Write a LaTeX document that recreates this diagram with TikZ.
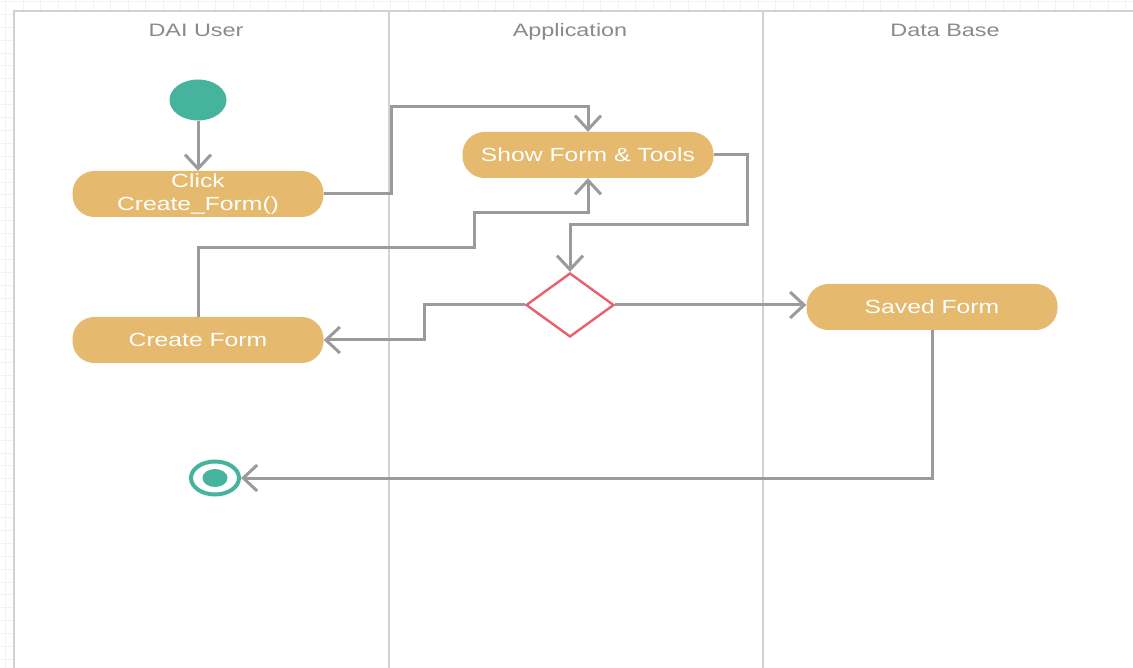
\documentclass[tikz,border=0pt]{standalone}
\usepackage{fontspec}
\setmainfont[FakeStretch=1.3]{Liberation Sans}
\usetikzlibrary{shapes.geometric,arrows.meta}
\definecolor{actfill}{HTML}{E5B96E}
\definecolor{teal}{HTML}{46B39D}
\definecolor{decred}{HTML}{E8616B}
\definecolor{flowgray}{HTML}{9B9B9B}
\definecolor{lanegray}{HTML}{D2D2D2}
\definecolor{headgray}{HTML}{8A8A8A}
\definecolor{gridgray}{HTML}{F2F2F2}
\tikzset{
  activity/.style={draw=none, fill=actfill, rounded corners=22pt,
    minimum width=251pt, minimum height=46pt, inner sep=0pt,
    text=white, align=center, font=\fontsize{19}{23}\selectfont},
  lanehead/.style={text=headgray, font=\fontsize{18}{22}\selectfont,
    text height=13pt, text depth=4pt},
  flow/.style={draw=flowgray, line width=3pt,
    -{Straight Barb[length=14pt,width=26pt,line width=3pt]}},
  lane/.style={draw=lanegray, line width=1.6pt},
}
\begin{document}
\begin{tikzpicture}[x=1pt,y=-1pt]
\useasboundingbox (0,0) rectangle (1133,668);
% background grid of the drawing canvas
\foreach \i in {0,...,65} \draw[gridgray, line width=0.8pt] (5.8+17.5*\i,0) -- (5.8+17.5*\i,668);
\foreach \j in {0,...,52} \draw[gridgray, line width=0.8pt] (0,1.4+12.9*\j) -- (1133,1.4+12.9*\j);
% swimlane frame
\fill[white] (14,11) rectangle (1140,680);
\draw[lane] (1140,11) -- (14,11) -- (14,680);
\draw[lane] (389,11) -- (389,680);
\draw[lane] (763,11) -- (763,680);
\node[lanehead] (hUser) at (196,32) {DAI User};
\node[lanehead] (hApp) at (570,32) {Application};
\node[lanehead] (hDB) at (945,32) {Data Base};

% activity nodes
\node[ellipse, fill=teal, minimum width=57pt, minimum height=41pt, inner sep=0pt] (start) at (198,100) {};
\node[activity] (click) at (198,194) {Click\\Create\_Form()};
\node[activity] (show) at (588,155) {Show Form \& Tools};
\node[diamond, draw=decred, fill=white, line width=2.4pt, minimum width=88pt, minimum height=64pt, inner sep=0pt] (dec) at (570,305) {};
\node[activity] (create) at (198,340) {Create Form};
\node[activity] (saved) at (932,307) {Saved Form};
\node[ellipse, draw=teal, line width=4pt, fill=white, minimum width=48pt, minimum height=33pt, inner sep=0pt] (end) at (215,478) {};
\node[ellipse, fill=teal, minimum width=25pt, minimum height=18pt, inner sep=0pt] (endcore) at (end.center) {};

% control flow
\coordinate (step5) at (474,248);
\draw[flow] (start) -- (click);
\draw[flow] (click.east) -- ++(68,0) |- ([yshift=25pt]show.north) -- (show.north);
\draw[flow] (show.east) -- ++(34,0) |- ([yshift=47pt]dec.north) -- (dec.north);
\draw[flow] (dec.west) -- ++(-100,0) |- (create.east);
\draw[flow] (create.north) |- (step5) |- ([yshift=-34pt]show.south) -- (show.south);
\draw[flow] (dec.east) -- (dec.east -| saved.west);
\draw[flow] (saved.south) |- (end.east);
\end{tikzpicture}
\end{document}
